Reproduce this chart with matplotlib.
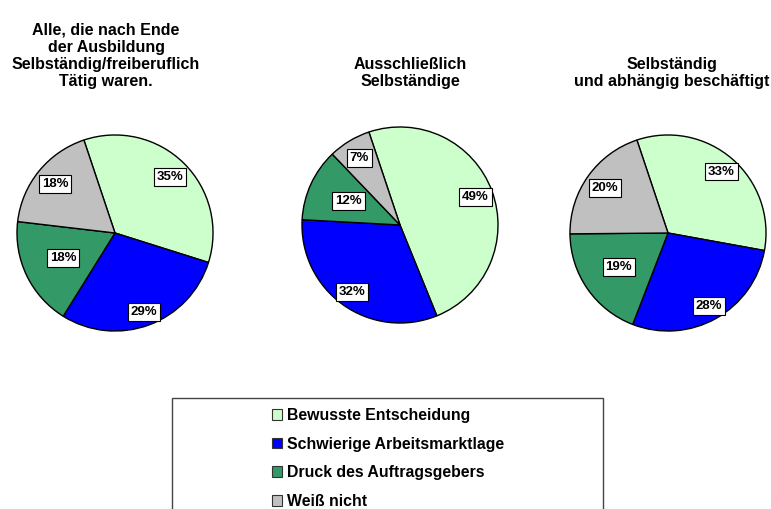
import matplotlib
matplotlib.use("Agg")
import matplotlib.pyplot as plt
from matplotlib.patches import Patch, Rectangle
import numpy as np

plt.rcParams['font.family'] = ['Liberation Sans', 'DejaVu Sans']

categories = ["Bewusste Entscheidung", "Schwierige Arbeitsmarktlage",
              "Druck des Auftragsgebers", "Weiß nicht"]
titles = ["Alle, die nach Ende\nder Ausbildung\nSelbständig/freiberuflich\nTätig waren.",
          "Ausschließlich\nSelbständige",
          "Selbständig\nund abhängig beschäftigt"]
alle = [35, 29, 18, 18]
ausschliesslich = [49, 32, 12, 7]
beides = [33, 28, 19, 20]
series = [alle, ausschliesslich, beides]

colors = ["#CCFFCC", "#0000FF", "#339966", "#C0C0C0"]
W, H = 771, 509
fig = plt.figure(figsize=(W / 100, H / 100), dpi=100)

# layout (pixels): pie centres, radius, title centres
centres = [(115, 233), (400, 225), (668, 233)]
radius = 99
title_x = [106, 410, 672]
title_bottom = 89
label_dist = [[0.80, 0.86, 0.59, 0.79],
              [0.82, 0.84, 0.58, 0.80],
              [0.83, 0.85, 0.61, 0.79]]
start = 108.5

for i, vals in enumerate(series):
    cx, cy = centres[i]
    ax = fig.add_axes([(cx - radius) / W, 1 - (cy + radius) / H,
                       2 * radius / W, 2 * radius / H])
    wedges, _ = ax.pie(vals, colors=colors, startangle=start, counterclock=False,
                       radius=1, wedgeprops=dict(edgecolor='black', linewidth=1.0))
    ax.set_xlim(-1.01, 1.01)
    ax.set_ylim(-1.01, 1.01)
    ax.set_aspect('equal')
    ax.axis('off')
    for j, w in enumerate(wedges):
        ang = np.deg2rad((w.theta1 + w.theta2) / 2)
        d = label_dist[i][j]
        ax.text(d * np.cos(ang), d * np.sin(ang), f"{vals[j]}%",
                ha='center', va='center', fontsize=9.5, fontweight='bold',
                bbox=dict(boxstyle='square,pad=0.22', fc='white', ec='black', lw=0.8))
    fig.text(title_x[i] / W, 1 - title_bottom / H, titles[i], ha='center', va='bottom',
             fontsize=11.5, fontweight='bold', linespacing=1.18)

# legend frame
fig.add_artist(Rectangle((172 / W, -0.1), (603 - 172) / W, (1 - 398 / H) + 0.1,
                         transform=fig.transFigure, fill=False, ec='#444444', lw=1.0))
handles = [Patch(facecolor=c, edgecolor='#333333', linewidth=0.8) for c in colors]
leg = fig.legend(handles, categories, loc='upper left',
                 bbox_to_anchor=(261 / W, 1 - 397 / H), frameon=False,
                 prop=dict(weight='bold', size=11.4), handlelength=0.65, handleheight=0.65,
                 handletextpad=0.3, labelspacing=0.86, borderpad=0.2)

fig.savefig("out.png", dpi=100)
